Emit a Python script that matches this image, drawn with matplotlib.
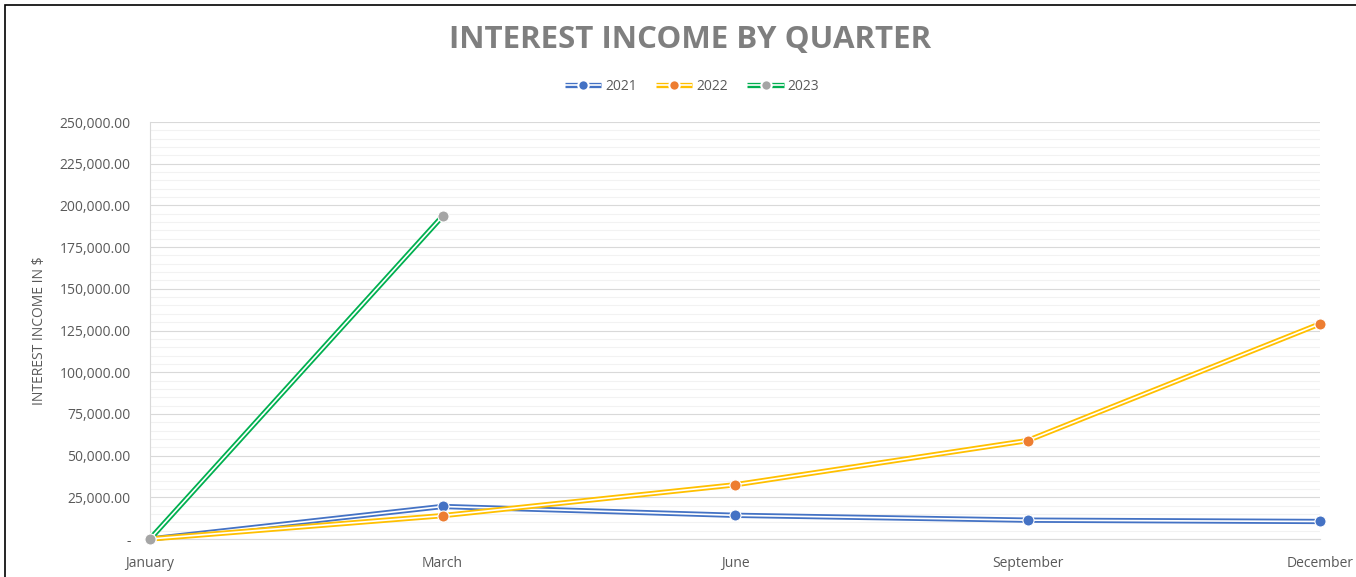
import matplotlib.pyplot as plt
from matplotlib.lines import Line2D
from matplotlib.legend_handler import HandlerTuple
from matplotlib.patches import Rectangle
from matplotlib.ticker import FuncFormatter, MultipleLocator

months = ["January", "March", "June", "September", "December"]
years = ["2021", "2022", "2023"]

income_2021 = [0, 19500, 14200, 11300, 10500]
income_2022 = [0, 14000, 32500, 59000, 129000]
income_2023 = [0, 193500]

line_colors = ["#4472C4", "#FFC000", "#00B050"]
marker_colors = ["#4472C4", "#ED7D31", "#A5A5A5"]

plt.rcParams["font.family"] = ["Open Sans", "DejaVu Sans"]
text_gray = "#595959"

fig = plt.figure(figsize=(13.56, 5.77), dpi=100)
ax = fig.add_axes([150 / 1356, 1 - 539 / 577, 1170 / 1356, 417 / 577])

# border of the chart box (only left / top visible in the original crop)
fig.patches.append(Rectangle((5 / 1356, -0.2), 1.5, 1.2 - 5 / 577,
                             transform=fig.transFigure, fill=False,
                             edgecolor="black", linewidth=1.2, zorder=0))

series = [income_2021, income_2022, income_2023]
handles = []
for i, vals in enumerate(series):
    xs = list(range(len(vals)))
    ax.plot(xs, vals, color=line_colors[i], lw=3.8, solid_capstyle="butt",
            zorder=3 + i, clip_on=False)
    ax.plot(xs, vals, color="white", lw=1.2, solid_capstyle="butt",
            zorder=3 + i, clip_on=False)
    ax.plot(xs, vals, ls="none", marker="o", ms=8, mfc=marker_colors[i],
            mec="white", mew=0.8, zorder=3 + i, clip_on=False)
    # legend key: double line with the marker in the middle
    h = (Line2D([], [], color=line_colors[i], lw=3.8, solid_capstyle="butt"),
         Line2D([], [], color="white", lw=1.2, solid_capstyle="butt"),
         Line2D([], [], ls="none", marker="o", ms=7.5, mfc=marker_colors[i],
                mec="white", mew=1.5))
    handles.append(h)

ax.set_xlim(0, len(months) - 1)
ax.set_ylim(0, 250000)
ax.set_xticks(range(len(months)))
ax.set_xticklabels(months)

ax.yaxis.set_major_locator(MultipleLocator(25000))
ax.yaxis.set_minor_locator(MultipleLocator(5000))
ax.yaxis.set_major_formatter(FuncFormatter(
    lambda v, p: "-" if v == 0 else f"{v:,.2f}"))
ax.grid(which="major", axis="y", color="#D9D9D9", lw=0.8)
ax.grid(which="minor", axis="y", color="#F2F2F2", lw=0.8)
ax.set_axisbelow(True)

ax.tick_params(axis="both", which="both", length=0, labelsize=10,
               labelcolor=text_gray)
ax.tick_params(axis="y", pad=14)
ax.tick_params(axis="x", pad=12)

for s in ["top", "right"]:
    ax.spines[s].set_visible(False)
ax.spines["left"].set_color("#D9D9D9")
ax.spines["bottom"].set_color("#D9D9D9")

ax.set_ylabel("INTEREST INCOME IN $", fontsize=10, color=text_gray, labelpad=9)

fig.text(690 / 1356, 1 - 40 / 577, "INTEREST INCOME BY QUARTER", ha="center",
         va="center", fontsize=22.5, fontweight="bold", color="#7F7F7F")

ax.legend(handles, years, handler_map={tuple: HandlerTuple(ndivide=1)},
          loc="center", bbox_to_anchor=(692 / 1356, 1 - 86 / 577),
          bbox_transform=fig.transFigure, ncol=3, frameon=False,
          fontsize=10, labelcolor=text_gray, handlelength=2.6,
          handletextpad=0.3, columnspacing=1.4)

fig.savefig("out.png", dpi=100)
